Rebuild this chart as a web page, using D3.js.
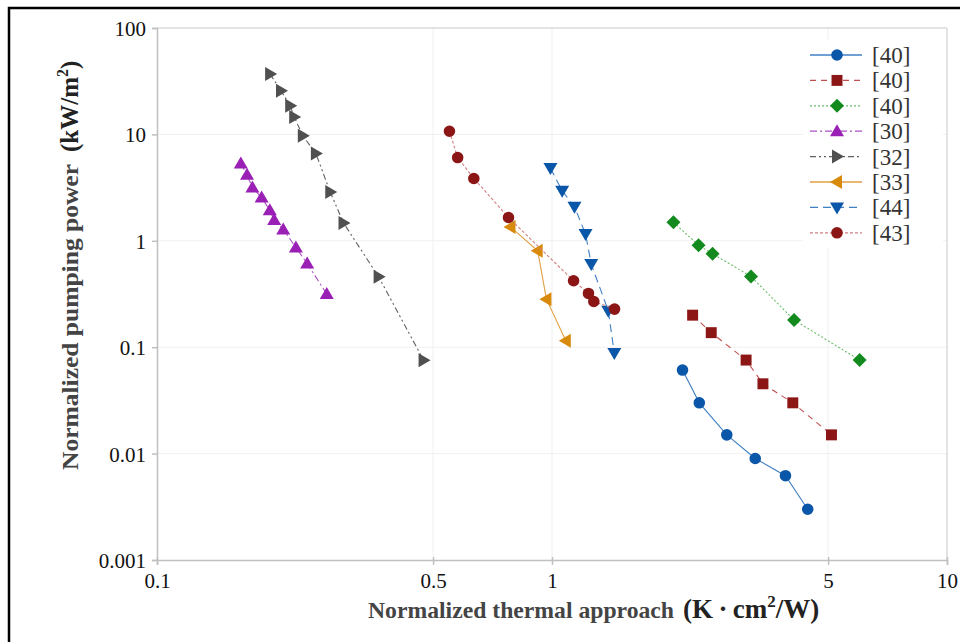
<!DOCTYPE html>
<html>
<head>
<meta charset="utf-8">
<script src="https://cdn.jsdelivr.net/npm/d3@7"></script>
<style>
  body { margin: 0; background: #fff; }
  text { font-family: "Liberation Serif", "Times New Roman", serif; }
</style>
</head>
<body>
<div class="chart"></div>
<script>
// series labels (legend order)
const labels = ["[40]", "[40]", "[40]", "[30]", "[32]", "[33]", "[44]", "[43]"];

// x = normalized thermal approach (K cm2/W), y = normalized pumping power (kW/m2)
const s40aX = [2.14, 2.36, 2.77, 3.27, 3.90, 4.44];
const s40aY = [0.061, 0.030, 0.015, 0.0090, 0.0062, 0.0030];
const s40bX = [2.27, 2.53, 3.10, 3.42, 4.07, 5.10];
const s40bY = [0.200, 0.137, 0.0757, 0.0453, 0.030, 0.015];
const s40cX = [2.03, 2.35, 2.55, 3.19, 4.10, 6.01];
const s40cY = [1.49, 0.91, 0.755, 0.462, 0.180, 0.0757];
const s30X = [0.163, 0.169, 0.1744, 0.184, 0.193, 0.198, 0.2087, 0.2247, 0.240, 0.269];
const s30Y = [5.33, 4.17, 3.17, 2.55, 1.94, 1.565, 1.28, 0.865, 0.612, 0.316];
const s32X = [0.1934, 0.206, 0.2174, 0.2225, 0.234, 0.2525, 0.2745, 0.2966, 0.364, 0.473];
const s32Y = [36.9, 25.7, 18.6, 14.6, 9.70, 6.62, 2.87, 1.47, 0.459, 0.0756];
const s33X = [0.785, 0.920, 0.968, 1.084];
const s33Y = [1.35, 0.805, 0.283, 0.115];
const s44X = [0.991, 1.061, 1.14, 1.216, 1.257, 1.388, 1.438];
const s44Y = [4.82, 2.95, 2.09, 1.156, 0.604, 0.220, 0.088];
const s43X = [0.55, 0.577, 0.634, 0.776, 1.134, 1.237, 1.276, 1.44];
const s43Y = [10.7, 6.06, 3.85, 1.655, 0.421, 0.32, 0.269, 0.228];

const xTicks = [0.1, 0.5, 1, 5, 10];
const yTicks = [0.001, 0.01, 0.1, 1, 10, 100];

// styles per series
const styles = [
  { color: "#0a56a8", line: "#3f7fc4", dash: null, shape: "circle" },
  { color: "#8c1515", line: "#c05050", dash: "6,5", shape: "square" },
  { color: "#138a1e", line: "#6cbf6c", dash: "2,2", shape: "diamond" },
  { color: "#9a1fb5", line: "#a850c0", dash: "7,3,2,3", shape: "up" },
  { color: "#505050", line: "#606060", dash: "6,3,2,3,2,3", shape: "right" },
  { color: "#d88a0c", line: "#e0a040", dash: null, shape: "left" },
  { color: "#0a56a8", line: "#3f7fc4", dash: "8,5", shape: "down" },
  { color: "#8c1515", line: "#d08080", dash: "3,2", shape: "circle" }
];

const series = [
  [s40aX, s40aY], [s40bX, s40bY], [s40cX, s40cY], [s30X, s30Y],
  [s32X, s32Y], [s33X, s33Y], [s44X, s44Y], [s43X, s43Y]
].map((p, i) => ({ label: labels[i], style: styles[i], pts: p[0].map((x, j) => [x, p[1][j]]) }));

const W = 960, H = 642;
const margin = { top: 28, right: 13, bottom: 82, left: 157 };
const w = W - margin.left - margin.right, h = H - margin.top - margin.bottom;

const svg = d3.select("div.chart").append("svg")
  .attr("width", W).attr("height", H);

// outer frame (left + top)
svg.append("path").attr("d", `M9,${H} V8 H${W}`)
  .attr("fill", "none").attr("stroke", "#000").attr("stroke-width", 2.5);

const g = svg.append("g").attr("transform", `translate(${margin.left},${margin.top})`);

const x = d3.scaleLog().domain([0.1, 10]).range([0, w]);
const y = d3.scaleLog().domain([0.001, 100]).range([h, 0]);

// gridlines
g.append("g").selectAll("line").data(yTicks.slice(1, -1)).enter().append("line")
  .attr("x1", 0).attr("x2", w).attr("y1", d => y(d)).attr("y2", d => y(d))
  .attr("stroke", "#f0f0f0").attr("stroke-width", 1);
g.append("g").selectAll("line").data(xTicks.slice(1, -1)).enter().append("line")
  .attr("y1", 0).attr("y2", h).attr("x1", d => x(d)).attr("x2", d => x(d))
  .attr("stroke", "#f0f0f0").attr("stroke-width", 1);

// plot frame top/right
g.append("path").attr("d", `M0,0 H${w} V${h}`)
  .attr("fill", "none").attr("stroke", "#c8c8c8").attr("stroke-width", 1);

// axes
const xAxis = g.append("g").attr("transform", `translate(0,${h})`)
  .call(d3.axisBottom(x).tickValues(xTicks).tickFormat(d3.format("~g")).tickSize(5).tickPadding(4));
const yAxis = g.append("g")
  .call(d3.axisLeft(y).tickValues(yTicks).tickFormat(d3.format("~g")).tickSize(5).tickPadding(6));
[xAxis, yAxis].forEach(a => {
  a.attr("font-family", null);
  a.select(".domain").attr("stroke", "#c0c0c0").attr("stroke-width", 1.5);
  a.selectAll(".tick line").attr("stroke", "#c0c0c0").attr("stroke-width", 1.5);
  a.selectAll("text").attr("font-size", 21).attr("fill", "#111");
});
xAxis.selectAll(".tick line").attr("y1", -3);
xAxis.selectAll("text").attr("dy", "0.9em");
yAxis.selectAll("text").attr("dy", "0.36em");

// marker symbols
function sym(shape) {
  if (shape === "circle") return d3.symbol(d3.symbolCircle, 105)();
  if (shape === "square") return d3.symbol(d3.symbolSquare, 120)();
  if (shape === "diamond") return "M0,-7 L7,0 L0,7 L-7,0 Z";
  if (shape === "up") return "M0,-7 L7,5 L-7,5 Z";
  if (shape === "down") return "M0,7 L7,-5 L-7,-5 Z";
  if (shape === "right") return "M7,0 L-5,-7 L-5,7 Z";
  if (shape === "left") return "M-7,0 L5,-7 L5,7 Z";
}

const line = d3.line().x(d => x(d[0])).y(d => y(d[1]));

series.forEach(s => {
  g.append("path").datum(s.pts).attr("d", line)
    .attr("fill", "none").attr("stroke", s.style.line).attr("stroke-width", 1.1)
    .attr("stroke-dasharray", s.style.dash);
  g.append("g").selectAll("path").data(s.pts).enter().append("path")
    .attr("transform", d => `translate(${x(d[0])},${y(d[1])})`)
    .attr("d", sym(s.style.shape)).attr("fill", s.style.color);
});

// legend
const leg = svg.append("g");
leg.append("rect").attr("x", 803).attr("y", 40).attr("width", 140).attr("height", 208).attr("fill", "#fff");
series.forEach((s, i) => {
  const yy = 55 + i * 25.4;
  leg.append("line").attr("x1", 810).attr("x2", 862).attr("y1", yy).attr("y2", yy)
    .attr("stroke", s.style.line).attr("stroke-width", 1.3).attr("stroke-dasharray", s.style.dash);
  leg.append("path").attr("transform", `translate(837,${yy})`).attr("d", sym(s.style.shape)).attr("fill", s.style.color);
  leg.append("text").attr("x", 872).attr("y", yy).attr("dy", "0.35em")
    .attr("font-size", 23).attr("fill", "#333").text(s.label);
});

// axis titles
const xt = svg.append("text").attr("x", 368).attr("y", 618).attr("font-weight", "bold");
xt.append("tspan").attr("fill", "#444").attr("font-size", 24)
  .attr("textLength", 306).attr("lengthAdjust", "spacingAndGlyphs").text("Normalized thermal approach");
xt.append("tspan").attr("dx", 9).attr("fill", "#222").attr("font-size", 27).text("(K\u2009·\u2009cm");
xt.append("tspan").attr("fill", "#222").attr("font-size", 17).attr("dy", -11).text("2");
xt.append("tspan").attr("fill", "#222").attr("font-size", 27).attr("dy", 11).text("/W)");

const yt = svg.append("text").attr("transform", "translate(78,470) rotate(-90)").attr("font-weight", "bold");
yt.append("tspan").attr("fill", "#444").attr("font-size", 24)
  .attr("textLength", 306).attr("lengthAdjust", "spacingAndGlyphs").text("Normalized pumping power");
yt.append("tspan").attr("dx", 12).attr("fill", "#222").attr("font-size", 25).text("(kW/m");
yt.append("tspan").attr("fill", "#222").attr("font-size", 16).attr("dy", -10).text("2");
yt.append("tspan").attr("fill", "#222").attr("font-size", 25).attr("dy", 10).text(")");
</script>
</body>
</html>
